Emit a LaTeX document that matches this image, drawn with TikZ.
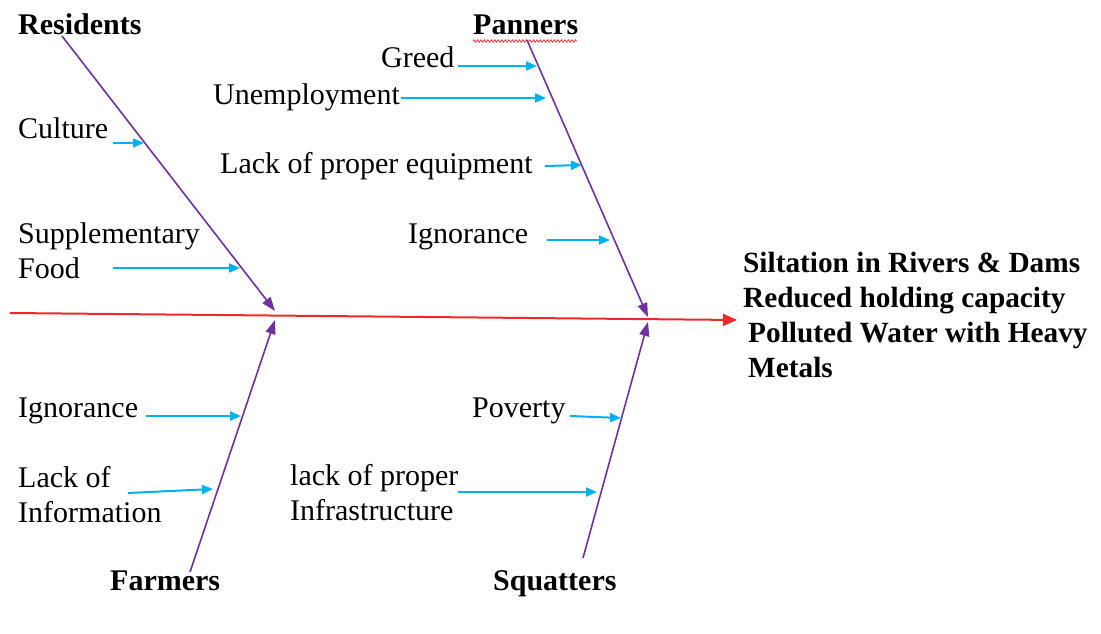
\documentclass[tikz,border=0pt]{standalone}
\usepackage{fontspec}
\setmainfont{Liberation Serif}
\usetikzlibrary{arrows.meta,decorations.pathmorphing}
\definecolor{bonepurple}{RGB}{112,48,160}
\definecolor{causecyan}{RGB}{0,176,240}
\definecolor{spinered}{RGB}{238,40,40}
\tikzset{
  txt/.style={inner sep=0pt, anchor=base west, font=\fontsize{30}{35}\selectfont, align=left},
  head/.style={txt, font=\fontsize{30}{35}\selectfont\bfseries},
  bone/.style={draw=bonepurple, line width=1.6pt, -{Triangle[length=14pt,width=10pt]}},
  cause/.style={draw=causecyan, line width=2pt, -{Triangle[length=11pt,width=9pt]}},
  spine/.style={draw=spinered, line width=2pt, -{Triangle[length=14pt,width=12pt]}}
}
\begin{document}
\begin{tikzpicture}[x=1pt,y=-1pt]
\useasboundingbox (0,0) rectangle (1101,634);

% main spine and effect (multi-line nodes sit on the baseline of their last line)
\coordinate (sp0) at (10,313);
\coordinate (sp1) at (737,320);
\draw[spine] (sp0) -- (sp1);
\node[head, font=\fontsize{29.3}{35}\selectfont\bfseries] (effect) at (743,377)
  {Siltation in Rivers \& Dams\\Reduced holding capacity\\\hspace*{5pt}Polluted Water with Heavy\\\hspace*{5pt}Metals};

% category headings
\node[head] (res) at (18,35) {Residents};
\node[head] (pan) at (473,35) {Panners};
\node[head] (far) at (110,590) {Farmers};
\node[head] (squ) at (493,590) {Squatters};
\draw[spinered, line width=0.7pt, decorate, decoration={zigzag, amplitude=1.3pt, segment length=3.5pt}]
  (pan.base west) ++(0,6) -- ++(104,0);

% bones
\coordinate (resA) at (62,36);
\coordinate (resB) at (275,311);
\coordinate (panA) at (527,40);
\coordinate (panB) at (648,317);
\coordinate (farA) at (190,572);
\coordinate (farB) at (275,320);
\coordinate (squA) at (583,558);
\coordinate (squB) at (648,322);
\draw[bone] (resA) -- (resB);
\draw[bone] (panA) -- (panB);
\draw[bone] (farA) -- (farB);
\draw[bone] (squA) -- (squB);

% residents causes
\node[txt] (cul) at (18,139) {Culture};
\node[txt] (sup) at (18,278) {Supplementary\\Food};
\coordinate (culS) at (113,143); \coordinate (culE) at (144,143);
\coordinate (supS) at (113,268); \coordinate (supE) at (240,268);
\draw[cause] (culS) -- (culE);
\draw[cause] (supS) -- (supE);

% panners causes
\node[txt] (gre) at (381,68) {Greed};
\node[txt] (une) at (213,105) {Unemployment};
\node[txt] (lpe) at (220,173) {Lack of proper equipment};
\node[txt] (ign1) at (408,243) {Ignorance};
\coordinate (greS) at (458,66); \coordinate (greE) at (537,66);
\coordinate (uneS) at (401,98); \coordinate (uneE) at (546,98);
\coordinate (lpeS) at (545,166); \coordinate (lpeE) at (582,165);
\coordinate (ign1S) at (547,240); \coordinate (ign1E) at (610,240);
\draw[cause] (greS) -- (greE);
\draw[cause] (uneS) -- (uneE);
\draw[cause] (lpeS) -- (lpeE);
\draw[cause] (ign1S) -- (ign1E);

% farmers causes
\node[txt] (ign2) at (18,417) {Ignorance};
\node[txt] (lin) at (18,522) {Lack of\\Information};
\coordinate (ign2S) at (146,416); \coordinate (ign2E) at (241,416);
\coordinate (linS) at (128,493); \coordinate (linE) at (213,489);
\draw[cause] (ign2S) -- (ign2E);
\draw[cause] (linS) -- (linE);

% squatters causes
\node[txt] (pov) at (472,417) {Poverty};
\node[txt] (lpi) at (290,520) {lack of proper\\Infrastructure};
\coordinate (povS) at (570,416); \coordinate (povE) at (621,418);
\coordinate (lpiS) at (458,492); \coordinate (lpiE) at (597,492);
\draw[cause] (povS) -- (povE);
\draw[cause] (lpiS) -- (lpiE);
\end{tikzpicture}
\end{document}
